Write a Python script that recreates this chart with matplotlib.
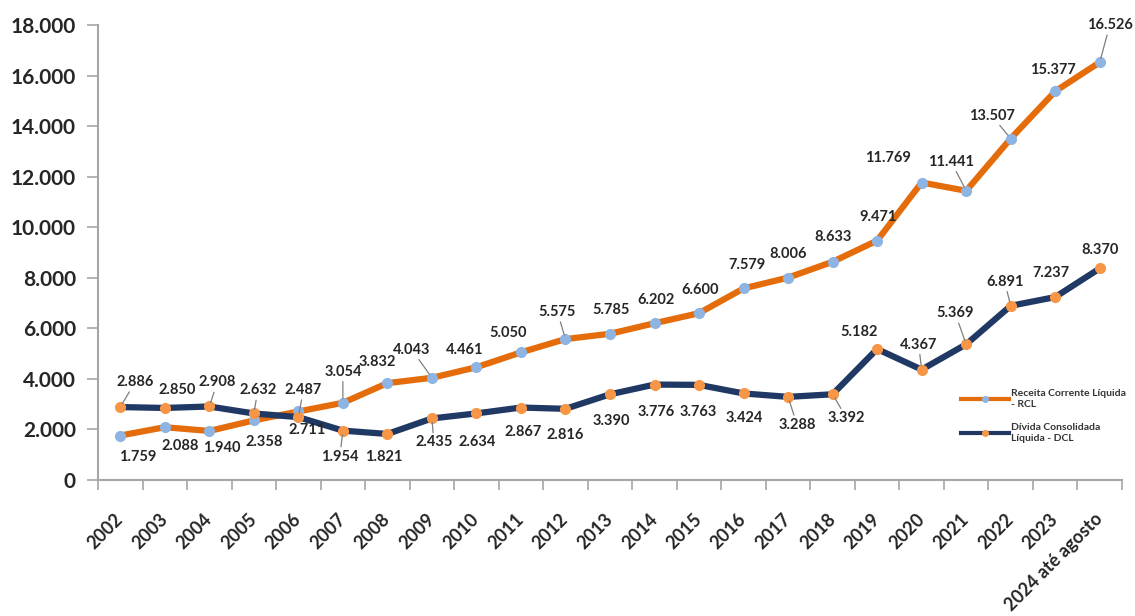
import matplotlib
matplotlib.use("Agg")
import matplotlib.pyplot as plt
import matplotlib.transforms as mtransforms
from matplotlib.lines import Line2D

# ---------------- data ----------------
categories = ["2002", "2003", "2004", "2005", "2006", "2007", "2008", "2009",
              "2010", "2011", "2012", "2013", "2014", "2015", "2016", "2017",
              "2018", "2019", "2020", "2021", "2022", "2023", "2024 até agosto"]
rcl = [1759, 2088, 1940, 2358, 2711, 3054, 3832, 4043, 4461, 5050, 5575, 5785,
       6202, 6600, 7579, 8006, 8633, 9471, 11769, 11441, 13507, 15377, 16526]
dcl = [2886, 2850, 2908, 2632, 2487, 1954, 1821, 2435, 2634, 2867, 2816, 3390,
       3776, 3763, 3424, 3288, 3392, 5182, 4367, 5369, 6891, 7237, 8370]
series_names = ["Receita Corrente Líquida\n- RCL", "Dívida Consolidada\nLíquida - DCL"]
y_ticks = [0, 2000, 4000, 6000, 8000, 10000, 12000, 14000, 16000, 18000]

# ---------------- label placement (pixels, image y-down) ----------------
rcl_off = [(17, 21), (15, 19), (12, 17), (10, 22), (9, 19), (0, -31), (-10, -21),
           (-20, -28), (-12, -17), (-13, -19), (-8, -27), (1, -24), (1, -23),
           (1, -23), (3, -23), (0, -24), (1, -25), (1, -24), (-34, -25),
           (-15, -29), (-19, -23), (-2, -21), (10, -37)]
rcl_lead = {5, 7, 10, 19, 20, 22}
dcl_off = [(15, -25), (12, -18), (8, -24), (4, -23), (5, -27), (-3, 26), (-4, 23),
           (2, 24), (1, 29), (2, 24), (0, 26), (1, 27), (2, 27), (-1, 27),
           (1, 25), (9, 28), (14, 24), (-18, -17), (-3, -25), (-11, -31),
           (-6, -24), (-4, -24), (0, -18)]
dcl_lead = {0, 2, 3, 4, 5, 7, 15, 16, 18, 19, 20}

ORANGE = "#E46C0A"
NAVY = "#1F3864"
LBLUE = "#8EB4E3"
LORANGE = "#F79646"
TXT = "#262626"
FONT = ["Lato", "DejaVu Sans"]

plt.rcParams["font.family"] = FONT

fig = plt.figure(figsize=(11.35, 6.16), dpi=100)
ax = fig.add_axes([98 / 1135, 1 - 480 / 616, (1122 - 98) / 1135, (480 - 25) / 616])

x = list(range(len(categories)))
ax.plot(x, rcl, color=ORANGE, lw=4.5, marker="o", ms=7, mfc=LBLUE, mec=LBLUE,
        solid_joinstyle="round", zorder=3)
ax.plot(x, dcl, color=NAVY, lw=4.5, marker="o", ms=7, mfc=LORANGE, mec=LORANGE,
        solid_joinstyle="round", zorder=4)


def fmt(v):
    return f"{v:,}".replace(",", ".")


def put_labels(vals, offs, leads):
    for i, (v, (dx, dy)) in enumerate(zip(vals, offs)):
        kw = {}
        if i in leads:
            kw["arrowprops"] = dict(arrowstyle="-", color="#7F7F7F", lw=0.9,
                                    shrinkA=0, shrinkB=3)
        ax.annotate(fmt(v), xy=(i, v), xytext=(dx, -dy), textcoords="offset pixels",
                    ha="center", va="center", fontsize=10.5, fontweight="bold",
                    color=TXT, zorder=6, **kw)


put_labels(rcl, rcl_off, rcl_lead)
put_labels(dcl, dcl_off, dcl_lead)

ax.set_xlim(-0.5, len(categories) - 0.5)
ax.set_ylim(0, 18000)
ax.set_yticks(y_ticks)
ax.set_yticklabels([fmt(t) for t in y_ticks], fontsize=15, fontweight="bold", color=TXT)

# category boundary ticks, labels at category centres
ax.set_xticks([i - 0.5 for i in range(len(categories) + 1)])
ax.set_xticklabels([])
ax.set_xticks(x, minor=True)
ax.set_xticklabels(categories, minor=True, rotation=45, ha="right",
                   rotation_mode="anchor", fontsize=13, fontweight="bold", color=TXT)
ax.tick_params(axis="x", which="minor", length=0, pad=14)
ax.tick_params(axis="x", which="major", length=7, color="#A6A6A6", width=1.2)
ax.tick_params(axis="y", length=8, color="#A6A6A6", width=1.2, pad=8)
shift = mtransforms.ScaledTranslation(-6 / 100, -11 / 100, fig.dpi_scale_trans)
for lab in ax.get_xticklabels(minor=True):
    lab.set_transform(lab.get_transform() + shift)

for s in ["top", "right"]:
    ax.spines[s].set_visible(False)
for s in ["left", "bottom"]:
    ax.spines[s].set_color("#A6A6A6")
    ax.spines[s].set_linewidth(1.5)

handles = [Line2D([], [], color=ORANGE, lw=3, marker="o", ms=4, mfc=LBLUE, mec=LBLUE),
           Line2D([], [], color=NAVY, lw=3, marker="o", ms=4, mfc=LORANGE, mec=LORANGE)]
leg = fig.legend(handles, series_names, loc="upper left",
                 bbox_to_anchor=(952 / 1135, 1 - 380 / 616), frameon=False,
                 handlelength=4.6, handletextpad=0.2, labelspacing=1.4,
                 prop=dict(family=FONT, size=7.5, weight="bold"))
for t in leg.get_texts():
    t.set_color("#333333")

fig.savefig("out.png", dpi=100)
